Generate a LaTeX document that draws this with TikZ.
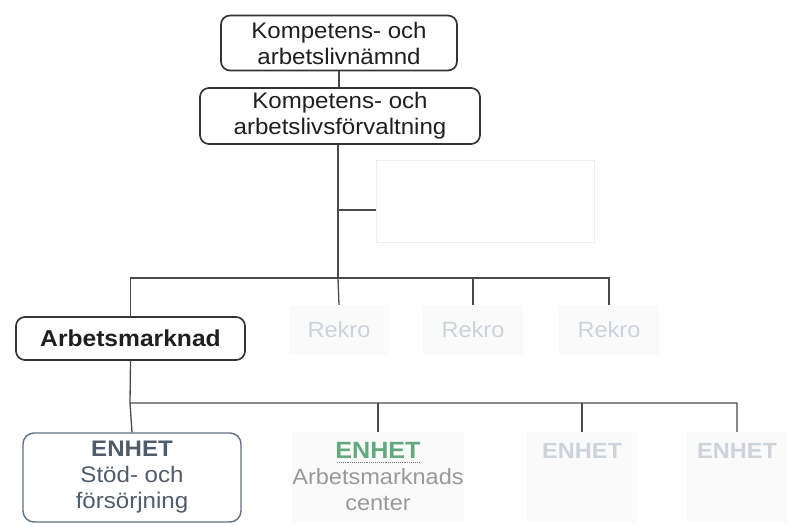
\documentclass[tikz,border=0pt]{standalone}
\usepackage{fontspec}
\setmainfont[FakeStretch=1.07]{Liberation Sans}
\definecolor{ln}{HTML}{4A4A4A}
\definecolor{bx}{HTML}{333333}
\definecolor{bluegray}{HTML}{5E7183}
\definecolor{enhtxt}{HTML}{4F5D6B}
\definecolor{enhgreen}{HTML}{62AA7E}
\definecolor{faint}{HTML}{CCD3DA}
\definecolor{faintfill}{HTML}{FAFAFB}
\begin{document}
\begin{tikzpicture}[x=1pt,y=-1pt,
  conn/.style={draw=ln, line width=1.3pt},
  mainbox/.style={draw=bx, line width=1.7pt, rounded corners=9pt, align=center,
    inner sep=0pt, font=\fontsize{22.5}{26}\selectfont, text=black!88},
  fadebox/.style={fill=faintfill, draw=none, inner sep=0pt, align=center,
    font=\fontsize{22}{26}\selectfont, text=faint},
  unitbox/.style={draw=bluegray, line width=1.4pt, rounded corners=11pt, align=center,
    inner sep=0pt, font=\fontsize{22.5}{26}\selectfont, text=enhtxt}]
\useasboundingbox (0,0) rectangle (791,524);
\fill[white] (0,0) rectangle (791,524);

% top boxes
\node[mainbox, minimum width=236pt, minimum height=55pt] (nmd) at (339,43)
  {Kompetens- och\\arbetslivnämnd};
\node[mainbox, minimum width=280pt, minimum height=56pt] (forv) at (340,116)
  {Kompetens- och\\arbetslivsförvaltning};

% staff box (faded)
\node[draw=black!7, line width=0.8pt, minimum width=218pt, minimum height=82pt] (staff) at (485,201) {};

% level 2
\node[mainbox, minimum width=229pt, minimum height=43pt, font=\fontsize{23}{26}\selectfont\bfseries] (am) at (130.5,338.5) {Arbetsmarknad};
\node[fadebox, minimum width=100pt, minimum height=50pt] (r1) at (339,330) {Rekro};
\node[fadebox, minimum width=100pt, minimum height=50pt] (r2) at (473,330) {Rekro};
\node[fadebox, minimum width=100pt, minimum height=50pt] (r3) at (609,330) {Rekro};

% level 3
\node[unitbox, minimum width=218pt, minimum height=89pt] (u1) at (132,477.5)
  {\textbf{ENHET}\\Stöd- och\\försörjning};
\node[fadebox, minimum width=150pt, minimum height=90pt, text=black!40] (u2) at (378,477)
  {{\fontsize{23.5}{26}\selectfont\textbf{\color{enhgreen}ENHET}}\\Arbetsmarknads\\center};
\node[fadebox, minimum width=110pt, minimum height=90pt] (u3) at (582,477)
  {\textbf{ENHET}\\\phantom{x}\\\phantom{x}};
\node[fadebox, minimum width=100pt, minimum height=90pt] (u4) at (737,477)
  {\textbf{ENHET}\\\phantom{x}\\\phantom{x}};
\draw[black!55, line width=0.9pt, densely dotted] (337,462) -- (419,462);

% connectors
\coordinate (j1) at (338,210);
\coordinate (bus1) at (338,278);
\coordinate (bus2) at (130,403);

\draw[conn] (nmd.south) -- (forv.north -| nmd.south);
\draw[conn] (forv.south -| j1) -- (bus1);
\draw[conn] (j1) -- (j1 -| staff.west);
\draw[conn] (am.north) |- (bus1) -| (r3.north);
\draw[conn] (bus1) -- (r1.north);
\draw[conn] (r2.north |- bus1) -- (r2.north);
\draw[conn] (am.south) -- (bus2) -| (u4.north);
\draw[conn] (bus2) -- (u1.north);
\draw[conn] (u2.north |- bus2) -- (u2.north);
\draw[conn] (u3.north |- bus2) -- (u3.north);
\end{tikzpicture}
\end{document}
